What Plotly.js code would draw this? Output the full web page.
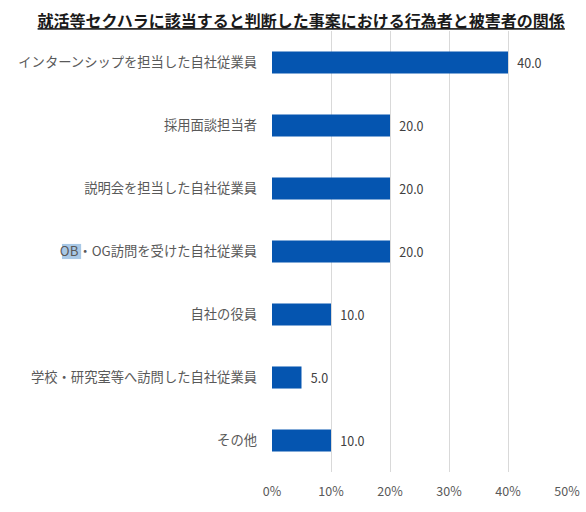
<!DOCTYPE html>
<html>
<head>
<meta charset="utf-8">
<script src="https://cdn.plot.ly/plotly-3.0.1.min.js"></script>
<style>
  html, body { margin: 0; padding: 0; background: #fff; }
  #chart { width: 586px; height: 512px; }
</style>
</head>
<body>
<div id="chart"></div>
<script>
// 行為者の区分（上から順）
const categories = [
  'インターンシップを担当した自社従業員',
  '採用面談担当者',
  '説明会を担当した自社従業員',
  'OB・OG訪問を受けた自社従業員',
  '自社の役員',
  '学校・研究室等へ訪問した自社従業員',
  'その他'
];
// 割合（%）
const shares = [40.0, 20.0, 20.0, 20.0, 10.0, 5.0, 10.0];
const tickValues = [0, 10, 20, 30, 40, 50];
const tickLabels = ['0%', '10%', '20%', '30%', '40%', '50%'];

const jpFont = '"Noto Sans CJK JP", "Noto Sans", sans-serif';

const trace = {
  type: 'bar',
  orientation: 'h',
  y: categories,
  x: shares,
  width: 0.35,
  marker: { color: '#0555B0' },
  // 値ラベルは棒の右側に少し間を空けて表示
  text: shares.map(v => '\u2002' + v.toFixed(1)),
  textposition: 'outside',
  cliponaxis: false,
  textfont: { family: jpFont, size: 12.5, color: '#404040' },
  hoverinfo: 'skip'
};

const layout = {
  width: 586,
  height: 512,
  margin: { l: 272, r: 19, t: 31, b: 40 },
  paper_bgcolor: '#ffffff',
  plot_bgcolor: '#ffffff',
  showlegend: false,
  title: {
    text: '<b><u>就活等セクハラに該当すると判断した事案における行為者と被害者の関係</u></b>',
    font: { family: jpFont, size: 16, color: '#1a1a1a' },
    xref: 'container',
    x: 0.514, xanchor: 'center',
    yref: 'container',
    y: 0.958, yanchor: 'middle'
  },
  xaxis: {
    range: [0, 50],
    tickvals: tickValues,
    ticktext: tickLabels,
    showgrid: true,
    gridcolor: '#d9d9d9',
    gridwidth: 1,
    zeroline: false,
    showline: false,
    ticks: '',
    ticklabelstandoff: 10,
    tickfont: { family: jpFont, size: 12.5, color: '#595959' },
    fixedrange: true
  },
  yaxis: {
    autorange: 'reversed',
    showgrid: false,
    zeroline: false,
    showline: false,
    ticks: '',
    ticklabelstandoff: 14,
    tickfont: { family: jpFont, size: 13.3, color: '#595959' },
    fixedrange: true
  },
  bargap: 0.65,
  // 「OB」部分の選択ハイライト（ラベルの下に敷く）
  shapes: [{
    type: 'rect',
    layer: 'below',
    xref: 'paper', yref: 'y',
    x0: -0.712, x1: -0.647,
    y0: 2.88, y1: 3.12,
    fillcolor: '#A8C8E6',
    line: { width: 0 }
  }]
};

Plotly.newPlot('chart', [trace], layout, { displayModeBar: false, staticPlot: true });
</script>
</body>
</html>
